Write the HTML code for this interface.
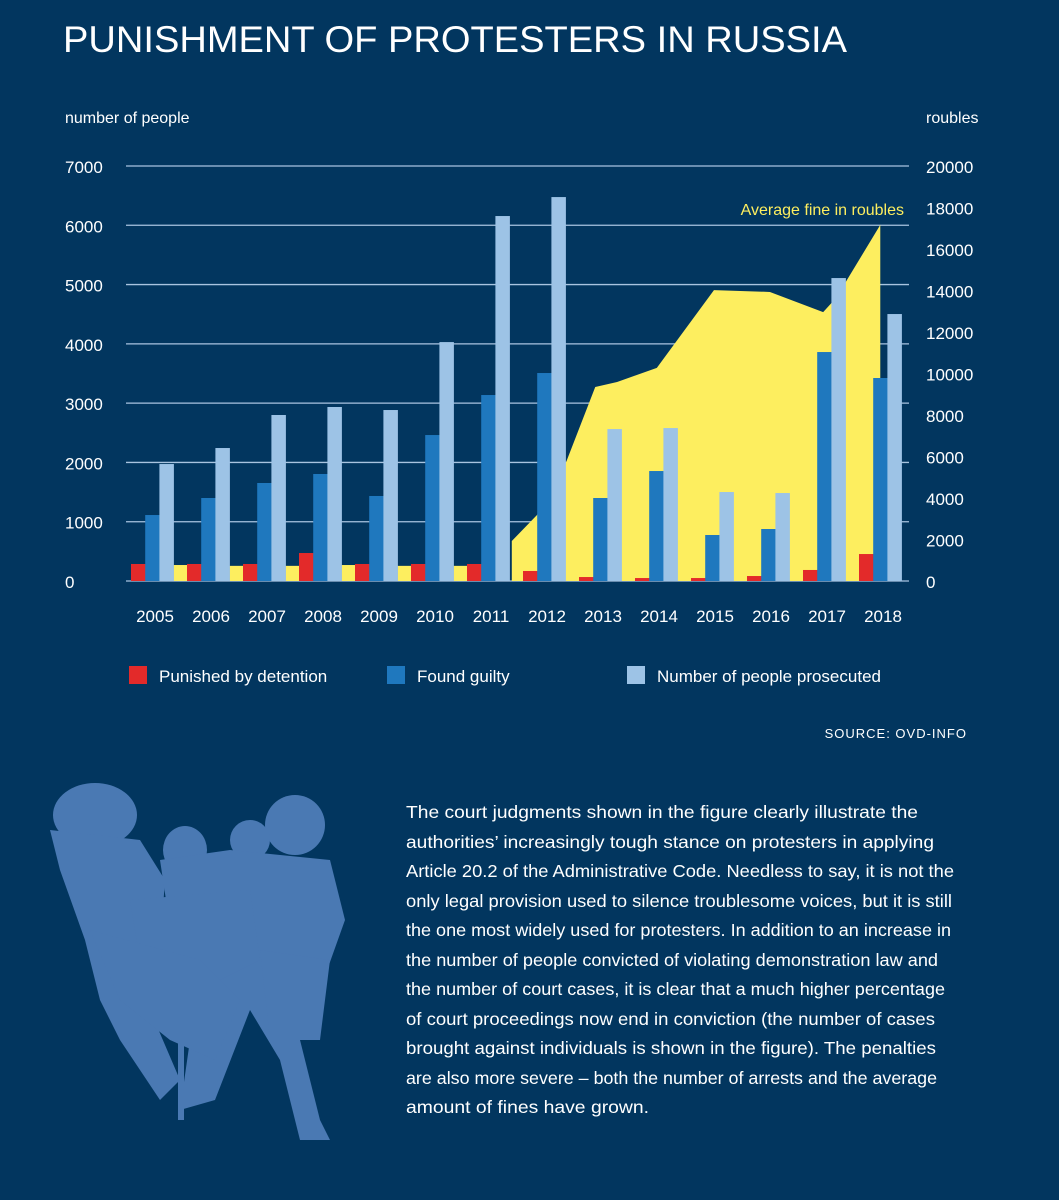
<!DOCTYPE html>
<html><head><meta charset="utf-8"><style>
html,body{margin:0;padding:0;background:#02365f;}
svg{display:block;font-family:"Liberation Sans",sans-serif;}
</style></head><body>
<svg id="chart" width="1059" height="1200" viewBox="0 0 1059 1200" xmlns="http://www.w3.org/2000/svg">
<rect width="1059" height="1200" fill="#02365f"/>
<text x="63" y="52" fill="#fff" font-size="37" textLength="784" lengthAdjust="spacingAndGlyphs">PUNISHMENT OF PROTESTERS IN RUSSIA</text>
<text x="65" y="123" fill="#fff" font-size="16">number of people</text>
<text x="926" y="123" fill="#fff" font-size="16">roubles</text>
<g id="grid"></g>
<g id="area"></g>
<g id="bars"></g>
<g id="labels"></g>
<text x="904" y="215" fill="#fdee5f" font-size="16" text-anchor="end">Average fine in roubles</text>
<g>
<rect x="129" y="666" width="18" height="18" fill="#e32a2a"/>
<text x="159" y="682" fill="#fff" font-size="17">Punished by detention</text>
<rect x="387" y="666" width="18" height="18" fill="#1f78be"/>
<text x="417" y="682" fill="#fff" font-size="17">Found guilty</text>
<rect x="627" y="666" width="18" height="18" fill="#9dc3e6"/>
<text x="657" y="682" fill="#fff" font-size="17">Number of people prosecuted</text>
</g>
<text x="967" y="738" fill="#fff" font-size="13" text-anchor="end" letter-spacing="1">SOURCE: OVD-INFO</text>
<g fill="#4a79b3">
<ellipse cx="95" cy="815" rx="42" ry="32"/>
<ellipse cx="185" cy="850" rx="22" ry="24"/>
<ellipse cx="295" cy="825" rx="30" ry="30"/>
<ellipse cx="250" cy="840" rx="20" ry="20"/>
<polygon points="50,830 140,840 165,880 160,950 150,1010 180,1080 160,1100 120,1040 100,1000 85,940 60,870"/>
<polygon points="160,860 230,850 330,860 345,920 320,990 300,1040 320,1120 330,1140 300,1140 280,1060 250,1010 215,1100 180,1110 190,1040 175,960"/>
<polygon points="130,900 250,890 260,960 200,990 140,960"/>
<polygon points="90,930 200,960 240,1000 215,1060 170,1040 120,1000"/>
<polygon points="260,950 330,960 320,1040 270,1040"/>
<rect x="178" y="1000" width="6" height="120"/>
</g>
<g fill="#fff" font-size="17.5">
<text x="406" y="818" textLength="512" lengthAdjust="spacingAndGlyphs">The court judgments shown in the figure clearly illustrate the</text>
<text x="406" y="848" textLength="528" lengthAdjust="spacingAndGlyphs">authorities’ increasingly tough stance on protesters in applying</text>
<text x="406" y="877" textLength="548" lengthAdjust="spacingAndGlyphs">Article 20.2 of the Administrative Code. Needless to say, it is not the</text>
<text x="406" y="907" textLength="546" lengthAdjust="spacingAndGlyphs">only legal provision used to silence troublesome voices, but it is still</text>
<text x="406" y="936" textLength="545" lengthAdjust="spacingAndGlyphs">the one most widely used for protesters. In addition to an increase in</text>
<text x="406" y="966" textLength="532" lengthAdjust="spacingAndGlyphs">the number of people convicted of violating demonstration law and</text>
<text x="406" y="995" textLength="539" lengthAdjust="spacingAndGlyphs">the number of court cases, it is clear that a much higher percentage</text>
<text x="406" y="1025" textLength="529" lengthAdjust="spacingAndGlyphs">of court proceedings now end in conviction (the number of cases</text>
<text x="406" y="1054" textLength="530" lengthAdjust="spacingAndGlyphs">brought against individuals is shown in the figure). The penalties</text>
<text x="406" y="1084" textLength="531" lengthAdjust="spacingAndGlyphs">are also more severe – both the number of arrests and the average</text>
<text x="406" y="1113" textLength="243" lengthAdjust="spacingAndGlyphs">amount of fines have grown.</text>
</g>
</svg>
<script>
const years = [2005,2006,2007,2008,2009,2010,2011,2012,2013,2014,2015,2016,2017,2018];
const detention = [287,287,287,472,287,287,287,169,67,50,50,84,186,455];
const guilty = [1113,1400,1653,1805,1434,2462,3137,3508,1400,1855,776,877,3862,3424];
const prosecuted = [1973,2243,2800,2935,2884,4030,6156,6476,2563,2580,1501,1484,5110,4503];
const fineBarYears = [2005,2006,2007,2008,2009,2010];
const fineBarValues = [770,730,730,770,730,730];
const fineAreaYears = [2011.80,2012.25,2012.77,2013.29,2013.68,2014.39,2015.41,2016.41,2017.36,2017.59,2018.38];
const fineAreaValues = [1930,3180,5730,9350,9590,10270,14020,13930,12960,13640,17160];
const leftTicks = [0,1000,2000,3000,4000,5000,6000,7000];
const rightTicks = [0,2000,4000,6000,8000,10000,12000,14000,16000,18000,20000];

const NS = 'http://www.w3.org/2000/svg';
const base = 581, top0 = 166;
const yL = v => base - v/7000*(base-top0);
const yR = v => base - v/20000*(base-top0);
const x0 = y => 131 + 56*(y-2005);
const bw = 14.2;
function mk(tag, attrs, parent){const e=document.createElementNS(NS,tag);for(const k in attrs)e.setAttribute(k,attrs[k]);parent.appendChild(e);return e;}
const grid=document.getElementById('grid'), area=document.getElementById('area'), bars=document.getElementById('bars'), labels=document.getElementById('labels');

leftTicks.forEach(v=>{
  const l=mk('line',{x1:126,x2:909,y1:yL(v),y2:yL(v),stroke:'#a9c4e0','stroke-width':1.3},grid);
  
  
  const t=mk('text',{x:65,y:yL(v)+7,fill:'#fff','font-size':17},labels);
  t.textContent=v;
  
  
});
rightTicks.forEach(v=>{
  const t=mk('text',{x:926,y:yR(v)+7,fill:'#fff','font-size':17},labels);
  t.textContent=v;
  
  
});
let pts = `${x0(fineAreaYears[0])},${base} `;
fineAreaYears.forEach((y,i)=>{pts += `${x0(y)},${yR(fineAreaValues[i])} `;});
pts += `${x0(fineAreaYears[fineAreaYears.length-1])},${base}`;
const poly=mk('polygon',{points:pts,fill:'#fdee5f'},area);


fineBarYears.forEach((y,i)=>{
  const r=mk('rect',{x:x0(y)+3*bw,y:yR(fineBarValues[i]),width:bw,height:base-yR(fineBarValues[i]),fill:'#fdee5f'},bars);
  
  
});
years.forEach((y,i)=>{
  [[detention,'#e32a2a','detention'],[guilty,'#1f78be','guilty'],[prosecuted,'#9dc3e6','prosecuted']].forEach((s,j)=>{
    const v=s[0][i];
    const r=mk('rect',{x:x0(y)+j*bw,y:yL(v),width:bw+0.3,height:base-yL(v),fill:s[1]},bars);
    
    
  });
  const t=mk('text',{x:x0(y)+24,y:622,fill:'#fff','font-size':17,'text-anchor':'middle'},labels);
  t.textContent=y;
  
  
});
</script>
</body></html>
